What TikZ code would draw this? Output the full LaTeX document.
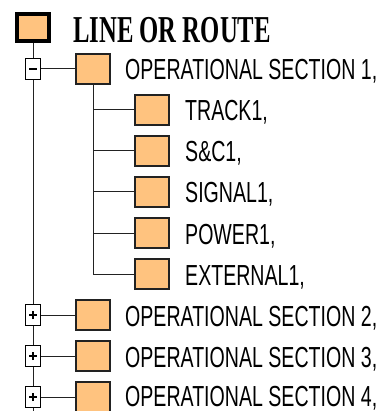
\documentclass[tikz,border=0pt]{standalone}
\usepackage{fontspec}
\setmainfont{Liberation Serif}
\newfontfamily\lblfont{Liberation Sans}
\newcommand\sqz[2]{\scalebox{#1}[1]{#2}}
\definecolor{boxfill}{HTML}{FFC37F}
\definecolor{boxline}{HTML}{222222}
\begin{document}
\begin{tikzpicture}[x=1pt,y=-1pt,
  leaf/.style={draw=boxline,line width=1.2pt,fill=boxfill,minimum width=34pt,minimum height=30pt,inner sep=0pt},
  rootbox/.style={draw=black,line width=4pt,fill=boxfill,minimum width=32pt,minimum height=27pt,inner sep=0pt},
  toggle/.style={draw=black,fill=white,line width=0.9pt,minimum width=15pt,minimum height=21pt,inner sep=0pt},
  lbl/.style={anchor=base west,inner sep=0pt,font=\lblfont\fontsize{29}{29}\selectfont},
  rootlbl/.style={anchor=base west,inner sep=0pt,font=\bfseries\fontsize{38}{38}\selectfont},
  conn/.style={draw=boxline,line width=1pt}]
\useasboundingbox (0,0) rectangle (383,411);
% root
\node[rootbox] (root) at (33,27.5) {};
\node[rootlbl] (roottxt) at (73,43) {\sqz{0.65}{LINE OR ROUTE}};
\coordinate (bottom) at (33,411);
\draw[conn] (root.south) -- (bottom);
% level 1 toggles and boxes
\foreach \i/\y/\b in {1/69/80,2/315/326,3/356/367,4/397/406}{
  \node[toggle] (t\i) at (33,\y) {};
  \node[leaf] (s\i) at (93,\y) {};
  \draw[conn] (t\i.east) -- (s\i.west);
  \node[lbl] (st\i) at (125,\b) {\sqz{0.675}{OPERATIONAL SECTION \i,}};
}
\foreach \i in {1,2,3,4}{
  \draw[line width=1.2pt] ([xshift=-4pt]t\i.center) -- ([xshift=4pt]t\i.center);
}
\foreach \i in {2,3,4}{
  \draw[line width=1.2pt] ([yshift=-4pt]t\i.center) -- ([yshift=4pt]t\i.center);
}
% level 2
\foreach \n/\y/\t in {a/110/{TRACK1,},b/151/{S\&C1,},c/192/{SIGNAL1,},d/233/{POWER1,},e/274/{EXTERNAL1,}}{
  \node[leaf] (c\n) at (152,\y) {};
  \node[lbl] (ct\n) at (185,\y+11) {\sqz{0.675}{\t}};
}
\draw[conn] (s1.south) |- (ce.west);
\foreach \n in {a,b,c,d}{
  \draw[conn] (s1.south |- c\n.west) -- (c\n.west);
}
\end{tikzpicture}
\end{document}
